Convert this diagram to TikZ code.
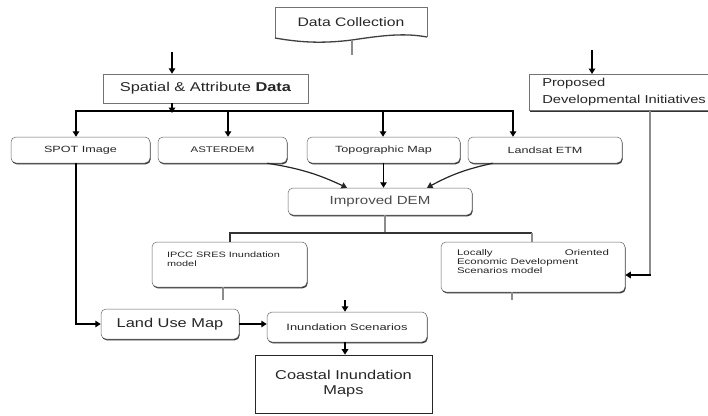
\documentclass[tikz,border=0pt]{standalone}
\usepackage{fontspec}
\setmainfont{Liberation Sans}
\newfontfamily\bigf[FakeStretch=1.28]{Liberation Sans}
\newfontfamily\smf[FakeStretch=1.4]{Liberation Sans}
\usetikzlibrary{arrows.meta,shadows}
\begin{document}
\begin{tikzpicture}[x=1pt,y=-1pt,
  rbox/.style={draw=black!60, line width=0.5pt, rounded corners=5pt, fill=white, inner sep=0pt, text=black!85,
    drop shadow={shadow xshift=0.7pt,shadow yshift=-1.3pt,fill=black!80,opacity=1}},
  sbox/.style={draw=black!55, line width=0.5pt, fill=white, inner sep=0pt, text=black!85,
    drop shadow={shadow xshift=0.7pt,shadow yshift=-1.3pt,fill=black!80,opacity=1}},
  pbox/.style={draw=black!85, line width=0.6pt, fill=white, inner sep=0pt, text=black!85},
  conn/.style={line width=1.5pt, black},
  gconn/.style={line width=1.5pt, black!45},
  tip/.style={-{Triangle[length=5.5pt,width=6.5pt]}},
  arr/.style={conn, tip},
  curv/.style={line width=1.2pt, black!85, tip},
  dcline/.style={draw=black!55, line width=0.5pt},
  big/.style={font=\bigf\fontsize{12.8}{15}\selectfont},
  small/.style={font=\smf\fontsize{9}{9}\selectfont},
]
\path[use as bounding box, fill=white] (0,0) rectangle (708,415);

% Data Collection (document shape)
\node[inner sep=0pt, minimum width=152pt, minimum height=30pt, text=black!85, font=\bigf\fontsize{12.3}{14}\selectfont] (dc) at (351,22) {Data Collection};
\draw[dcline] (427,37) -- (427,7) -- (275,7) -- (275,38);
\draw[black!75, line width=1.3pt] (427,37) .. controls (405,33) and (385,35) .. (352,40) .. controls (320,44) and (298,42) .. (275,38);
\coordinate (dcb) at (352,40);
\coordinate (dcs) at (352,55);
\draw[gconn] (dcb) -- (dcs);

% Spatial & Attribute Data
\node[sbox, minimum width=205pt, minimum height=29pt, big] (sp) at (205.5,88.5) {Spatial \& Attribute \textbf{Data}};

% Proposed
\node[sbox, minimum width=183pt, minimum height=36pt, anchor=north west,
  font=\bigf\fontsize{11.5}{17}\selectfont] (prop) at (529,74)
  {\parbox[c][36pt][c]{157pt}{\raggedright\mbox{Proposed}\\\mbox{Developmental Initiatives}}};

% Input row
\node[rbox, minimum width=139pt, minimum height=26pt, small] (spot) at (80.5,150) {SPOT Image};
\node[rbox, minimum width=129pt, minimum height=26pt, font=\smf\fontsize{8.2}{9}\selectfont] (aster) at (222.5,150) {ASTERDEM};
\node[rbox, minimum width=153pt, minimum height=26pt, small] (topo) at (383.5,150) {Topographic Map};
\node[rbox, minimum width=154pt, minimum height=26pt, small] (landsat) at (545,150) {Landsat ETM};

% Improved DEM
\node[rbox, minimum width=184pt, minimum height=27pt, text=black!70, font=\bigf\fontsize{11.8}{14}\selectfont] (dem) at (380,201.5) {Improved DEM};

% Models
\node[rbox, minimum width=155pt, minimum height=45pt, font=\smf\fontsize{7.8}{9}\selectfont] (ipcc) at (229.5,264.5)
  {\parbox[c][25pt][t]{125pt}{\raggedright IPCC SRES Inundation\\ model}};
\node[rbox, minimum width=184pt, minimum height=50pt, font=\smf\fontsize{8.2}{8.6}\selectfont] (loc) at (533,267)
  {\parbox[c][34pt][t]{152pt}{Locally\hfill Oriented\\ Economic Development\\ Scenarios model}};

% Bottom
\node[rbox, minimum width=138pt, minimum height=30pt, big] (lu) at (170,324) {Land Use Map};
\node[rbox, minimum width=160pt, minimum height=30pt, font=\smf\fontsize{9.2}{11}\selectfont] (ins) at (347,327) {Inundation Scenarios};
\node[pbox, minimum width=177pt, minimum height=58pt, align=center, font=\bigf\fontsize{12.8}{15}\selectfont] (coast) at (343.5,384) {Coastal Inundation\\Maps};

% Connectors: top
\coordinate (sa) at (172,52);
\draw[arr] (sa) -- (sa |- sp.north);
\coordinate (b1) at (76,111);
\coordinate (b2) at (228,111);
\coordinate (b3) at (383,111);
\coordinate (b4) at (513,111);
\draw[conn, line width=1.8pt, {Triangle[length=5.5pt,width=6.5pt]}-{Triangle[length=5.5pt,width=6.5pt]}]
  (b1 |- spot.north) -- (b1) -- (b4) -- (b4 |- landsat.north);
\draw[arr] (b2) -- (b2 |- aster.north);
\draw[arr] (b3) -- (b3 |- topo.north);
\draw[arr] (sa |- sp.south) -- ([yshift=-2pt]sa |- b1);

\coordinate (pa) at (592,50);
\draw[arr] (pa) -- (pa |- prop.north);
\coordinate (pc) at (650,275);
\draw[gconn] (prop.south -| pc) -- (pc);
\draw[arr] ([xshift=0.75pt]pc) -- (pc -| loc.east);

% To DEM
\draw[curv] ([xshift=-20pt]aster.south east) to[bend left=8] ([xshift=-33pt]dem.north);
\draw[arr] (topo.south) -- (topo.south |- dem.north);
\draw[curv] ([xshift=25pt]landsat.south west) to[bend right=8] ([xshift=47pt]dem.north);

% DEM split
\coordinate (dj) at (385,233);
\coordinate (dl) at (230,233);
\coordinate (dr) at (532,233);
\draw[gconn] (dem.south -| dj) -- (dj);
\draw[conn, black!80] (dl |- ipcc.north) -- (dl) -- (dr);
\draw[gconn] (dr) -- (dr |- loc.north);

% stubs
\coordinate (is) at (223,300);
\draw[gconn] (is |- ipcc.south) -- (is);
\coordinate (ls) at (512,300);
\draw[gconn] (ls |- loc.south) -- (ls);

% bottom flow
\coordinate (sl) at (76,324);
\draw[arr] (sl |- spot.south) -- (sl) -- (lu.west);
\draw[arr] (lu.east) -- (lu.east -| ins.west);
\coordinate (ia) at (345,300);
\draw[arr] (ia) -- (ia |- ins.north);
\draw[arr] (ia |- ins.south) -- (ia |- coast.north);
\end{tikzpicture}
\end{document}
